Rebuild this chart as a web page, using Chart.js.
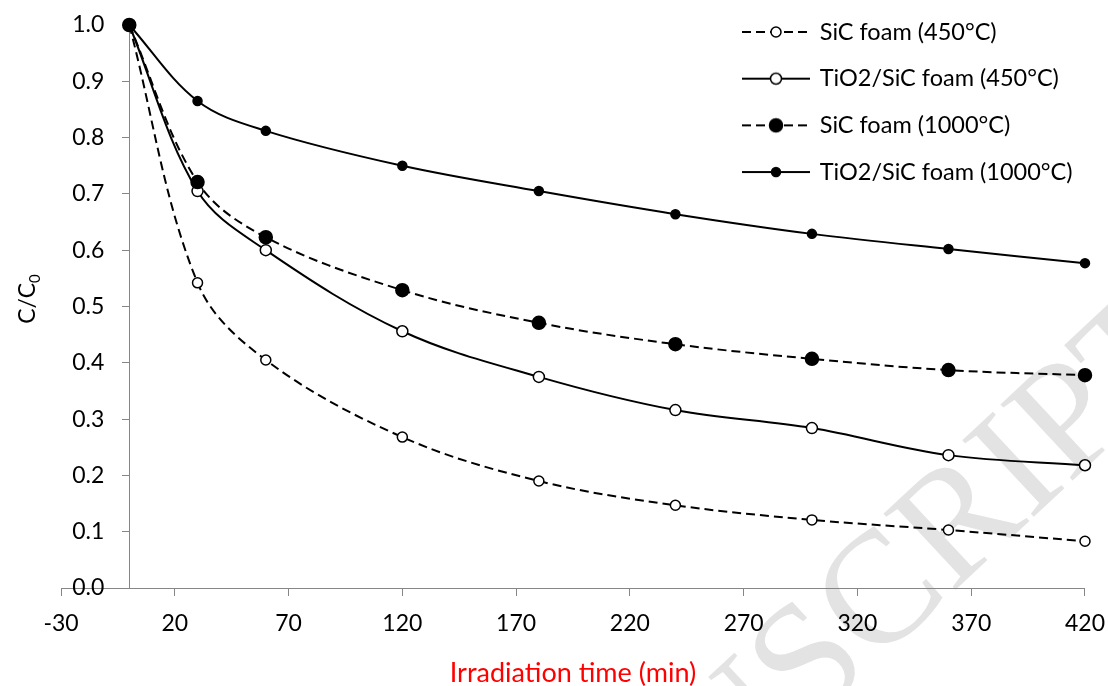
<!DOCTYPE html>
<html>
<head>
<meta charset="utf-8">
<script src="https://cdn.jsdelivr.net/npm/chart.js@4.4.1/dist/chart.umd.min.js"></script>
<style>
  html, body { margin: 0; padding: 0; background: #fff; }
  #wrap { width: 1108px; height: 686px; }
</style>
</head>
<body>
<div id="wrap"><canvas id="chart"></canvas></div>
<script>
// data
const times = [0, 30, 60, 120, 180, 240, 300, 360, 420];
const sicFoam450 = [1.0, 0.542, 0.405, 0.268, 0.190, 0.147, 0.121, 0.103, 0.083];
const tioSic450 = [1.0, 0.705, 0.600, 0.456, 0.375, 0.316, 0.284, 0.236, 0.218];
const sicFoam1000 = [1.0, 0.721, 0.623, 0.529, 0.471, 0.433, 0.407, 0.387, 0.378];
const tioSic1000 = [1.0, 0.865, 0.812, 0.750, 0.705, 0.664, 0.629, 0.602, 0.577];
const seriesNames = ['SiC foam (450°C)', 'TiO2/SiC foam (450°C)', 'SiC foam (1000°C)', 'TiO2/SiC foam (1000°C)'];
const xTicks = [-30, 20, 70, 120, 170, 220, 270, 320, 370, 420];
const yTicks = [0, 0.1, 0.2, 0.3, 0.4, 0.5, 0.6, 0.7, 0.8, 0.9, 1.0];

const DASH = [9, 5];
const AXIS_GREY = '#868686';

Chart.defaults.font.family = 'Lato';
Chart.defaults.font.size = 23;
Chart.defaults.color = '#000';

// line + marker sample for the legend
function legendSample(dash, radius, filled) {
    const cv = document.createElement('canvas');
    cv.width = 68;
    cv.height = 18;
    const g = cv.getContext('2d');
    g.strokeStyle = '#000';
    g.lineWidth = 2;
    g.setLineDash(dash);
    g.beginPath();
    g.moveTo(0, 9);
    g.lineTo(68, 9);
    g.stroke();
    g.setLineDash([]);
    g.beginPath();
    g.arc(34, 9, radius, 0, Math.PI * 2);
    g.fillStyle = filled ? '#000' : '#fff';
    g.fill();
    g.lineWidth = 1.5;
    g.stroke();
    return cv;
}

function makeSeries(label, values, dashed, radius, filled, order) {
    return {
        label: label,
        data: times.map((t, i) => ({ x: t, y: values[i] })),
        order: order,
        borderColor: '#000',
        borderWidth: 2,
        borderDash: dashed ? DASH : [],
        pointRadius: radius,
        pointHoverRadius: radius,
        pointBorderWidth: 1.5,
        pointBorderColor: '#000',
        pointBackgroundColor: filled ? '#000' : '#fff',
        tension: 0.35,
        fill: false,
        clip: false,
        legendIcon: legendSample(dashed ? DASH : [], radius, filled)
    };
}

const datasets = [
    makeSeries(seriesNames[0], sicFoam450, true, 5, false, 3),
    makeSeries(seriesNames[1], tioSic450, false, 5.5, false, 2),
    makeSeries(seriesNames[2], sicFoam1000, true, 6.5, true, 0),
    makeSeries(seriesNames[3], tioSic1000, false, 4.5, true, 1)
];

// faint watermark behind the plot
const watermark = {
    id: 'watermark',
    beforeDraw(chart) {
        const ctx = chart.ctx;
        ctx.save();
        ctx.translate(1205, 357);
        ctx.rotate(-43 * Math.PI / 180);
        ctx.font = '160px "Liberation Serif"';
        ctx.fillStyle = '#e3e3e3';
        ctx.textAlign = 'right';
        ctx.textBaseline = 'alphabetic';
        ctx.fillText('ACCEPTED MANUSCRIPT', 0, 0);
        ctx.restore();
    }
};

// legend in the top right corner, tick labels nudged away from the axes
const placeBoxes = {
    id: 'placeBoxes',
    afterLayout(chart) {
        const lg = chart.legend;
        lg.left = 720.8;
        lg.right = 1108;
        lg.top = -48.5;
        lg.bottom = 252.5;
    },
    beforeDraw(chart) {
        const yItems = chart.scales.y.getLabelItems();
        if (!yItems._shifted) {
            yItems.forEach(it => { it.options.translation[0] -= 25; });
            yItems._shifted = true;
        }
        const xItems = chart.scales.x.getLabelItems();
        if (!xItems._shifted) {
            xItems.forEach(it => { it.options.translation[1] += 11; });
            xItems._shifted = true;
        }
    }
};

// y title with subscript
const yTitle = {
    id: 'yTitle',
    afterDraw(chart) {
        const ctx = chart.ctx;
        ctx.save();
        ctx.translate(35, 299);
        ctx.rotate(-Math.PI / 2);
        ctx.fillStyle = '#000';
        ctx.textBaseline = 'alphabetic';
        ctx.textAlign = 'left';
        ctx.font = '23px Lato';
        const w1 = ctx.measureText('C/C').width;
        ctx.font = '15px Lato';
        const w2 = ctx.measureText('0').width;
        const x0 = -(w1 + w2) / 2;
        ctx.font = '23px Lato';
        ctx.fillText('C/C', x0, 0);
        ctx.font = '15px Lato';
        ctx.fillText('0', x0 + w1, 5);
        ctx.restore();
    }
};

new Chart(document.getElementById('chart'), {
    type: 'line',
    data: { datasets: datasets },
    options: {
        responsive: true,
        maintainAspectRatio: false,
        animation: false,
        layout: { padding: { left: 61, right: 23, top: 25, bottom: 0 } },
        scales: {
            x: {
                type: 'linear',
                position: 'bottom',
                min: -30,
                max: 420,
                afterBuildTicks: s => { s.ticks = xTicks.map(v => ({ value: v })); },
                grid: { drawOnChartArea: false, drawTicks: true, tickLength: 8, color: AXIS_GREY, lineWidth: 1 },
                border: { color: AXIS_GREY, width: 1 },
                ticks: { padding: 3, maxRotation: 0, autoSkip: false, font: { size: 23 } },
                title: {
                    display: true,
                    text: 'Irradiation time (min)',
                    color: '#ff0000',
                    font: { size: 27 },
                    padding: { top: 27, bottom: -3 }
                }
            },
            y: {
                type: 'linear',
                position: { x: 0 },
                min: 0,
                max: 1,
                afterBuildTicks: s => { s.ticks = yTicks.map(v => ({ value: v })); },
                grid: { drawOnChartArea: false, drawTicks: true, tickLength: 7, color: AXIS_GREY, lineWidth: 1 },
                border: { color: AXIS_GREY, width: 1 },
                ticks: {
                    font: { size: 23 },
                    callback: v => v.toFixed(1)
                }
            }
        },
        plugins: {
            legend: {
                position: 'chartArea',
                labels: {
                    usePointStyle: true,
                    pointStyleWidth: 64,
                    padding: 23.2,
                    color: '#000',
                    font: { size: 23.5 },
                    generateLabels: chart => chart.data.datasets.map((ds, i) => ({
                        text: ds.label,
                        fillStyle: '#000',
                        strokeStyle: '#000',
                        lineWidth: 0,
                        hidden: false,
                        pointStyle: ds.legendIcon,
                        datasetIndex: i
                    }))
                }
            },
            tooltip: { enabled: false }
        }
    },
    plugins: [watermark, placeBoxes, yTitle]
});
</script>
</body>
</html>
